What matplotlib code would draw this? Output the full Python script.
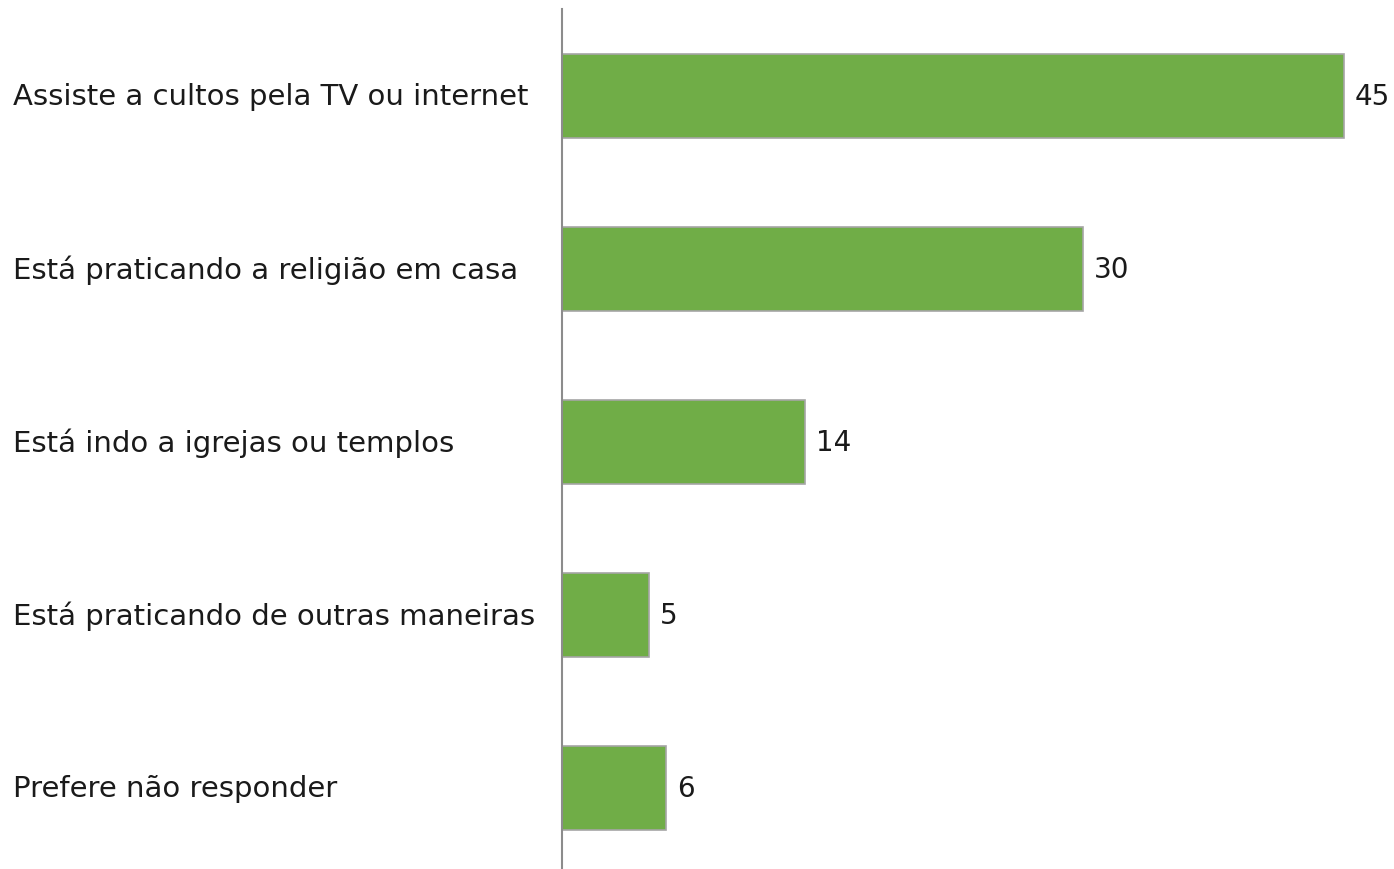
import matplotlib.pyplot as plt
from matplotlib.transforms import blended_transform_factory

categories = [
    "Assiste a cultos pela TV ou internet",
    "Está praticando a religião em casa",
    "Está indo a igrejas ou templos",
    "Está praticando de outras maneiras",
    "Prefere não responder",
]
values = [45, 30, 14, 5, 6]

plt.rcParams['font.family'] = ['DejaVu Sans']

fig = plt.figure(figsize=(13.94, 8.70), dpi=100)
ax = fig.add_axes([0.403, 0.0, 0.592, 0.9885])

pos = list(range(len(categories)))
ax.barh(pos, values, height=0.486, color='#70AD47', edgecolor='#A5A5A5', linewidth=1.2)

ax.set_xlim(0, 47.5)
ax.set_ylim(4.47, -0.503)

for s in ['top', 'right', 'bottom']:
    ax.spines[s].set_visible(False)
ax.spines['left'].set_color('#8C8C8C')
ax.spines['left'].set_linewidth(1.5)
ax.set_xticks([])
ax.set_yticks([])

# category labels, left aligned at the figure edge
trans = blended_transform_factory(fig.transFigure, ax.transData)
for p, c in zip(pos, categories):
    ax.text(0.009, p, c, transform=trans, ha='left', va='center',
            fontsize=21, color='#1a1a1a')

# value labels
for p, v in zip(pos, values):
    ax.annotate(str(v), (v, p), xytext=(8, 0), textcoords='offset points',
                ha='left', va='center', fontsize=20, color='#1a1a1a')

fig.savefig('out.png', dpi=100)
